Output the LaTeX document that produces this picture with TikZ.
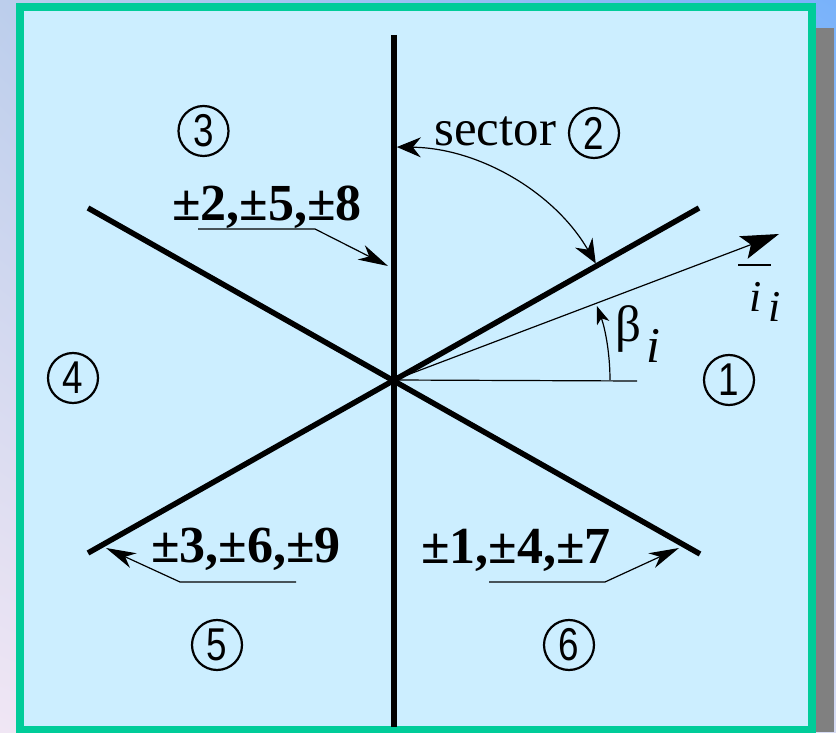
\documentclass[tikz,border=0pt]{standalone}
\usepackage{fontspec}
\setmainfont{Liberation Serif}
\newfontfamily\numfont{Liberation Sans}
\usepackage{graphicx}
\usetikzlibrary{arrows.meta,shadings}
\definecolor{panel}{HTML}{CCEEFF}
\definecolor{frame}{HTML}{00CC99}
\definecolor{shadowgray}{HTML}{808080}
\definecolor{bgul}{RGB}{188,206,236}
\definecolor{bgur}{RGB}{120,178,250}
\definecolor{bgll}{RGB}{240,230,244}
\definecolor{bglr}{RGB}{214,220,244}
\tikzset{
  sectline/.style={line width=5.5pt},
  thinline/.style={line width=1.2pt},
  circnum/.style={circle,draw,line width=2.2pt,minimum size=50pt,inner sep=0pt,font=\numfont\fontsize{46}{46}\selectfont},
  boldlab/.style={anchor=base west,inner sep=0pt,font=\fontsize{52}{52}\selectfont\bfseries},
  bigtxt/.style={anchor=base west,inner sep=0pt,font=\fontsize{51}{51}\selectfont},
  labtip/.style={-{Stealth[length=30pt,width=16pt,inset=9pt]}}
}
\newcommand{\sectnum}[3]{\node[circnum] (#1) at (#2) {\scalebox{.8}[1]{#3}};}

\begin{document}
\begin{tikzpicture}[x=1pt,y=1pt]
\useasboundingbox (0,0) rectangle (836,732);
% backdrop, shadow and panel
\shade[upper left=bgul,upper right=bgur,lower left=bgll,lower right=bglr] (0,0) rectangle (836,732);
\fill[shadowgray] (816,0) rectangle (834,704);
\fill[panel] (20,2) rectangle (812,725);
\draw[frame,line width=7.5pt] (20,2) rectangle (812,725);

% sector boundaries
\coordinate (O) at (394,352);
\coordinate (ntop) at (394,697);
\coordinate (nbot) at (394,5);
\coordinate (ur) at (699,524);
\coordinate (ul) at (88,524);
\coordinate (ll) at (88,179);
\coordinate (lr) at (700,178);
\draw[sectline] (ntop) -- (nbot);
\draw[sectline] (ul) -- (lr);
\draw[sectline] (ll) -- (ur);

% current vector and its angle
\coordinate (itip) at (779,498);
\coordinate (href) at (637,351);
\draw[thinline] (O) -- (href);
\draw[thinline,-{Stealth[length=38pt,width=24pt,inset=8pt]}] (O) -- (itip);
\draw[thinline,-{Stealth[length=18pt,width=13pt,inset=5pt]}] ([shift={(0:216)}]O) arc[start angle=0,end angle=20,radius=216];
\node[bigtxt] (beta) at (615,390) {β};
\node[anchor=base west,inner sep=0pt,font=\fontsize{50}{50}\selectfont\itshape] (betasub) at (646,369) {i};
\node[anchor=base west,inner sep=0pt,font=\fontsize{44}{44}\selectfont\itshape] (cur) at (749,420) {i};
\node[anchor=base west,inner sep=0pt,font=\fontsize{44}{44}\selectfont\itshape] (cursub) at (768,410) {i};
\draw[thinline] (738,467) -- (771,467);

% sector 2 span
\draw[thinline,{Stealth[length=24pt,width=20pt,inset=8pt]}-{Stealth[length=24pt,width=20pt,inset=8pt]}] ([shift={(89.3:233)}]O) arc[start angle=89.3,end angle=30,radius=233];
\node[bigtxt] (sectxt) at (434,586) {sector};

% sector numbers
\sectnum{s1}{729,352}{1}
\sectnum{s2}{594,599}{2}
\sectnum{s3}{203.5,601}{3}
\sectnum{s4}{73,354}{4}
\sectnum{s5}{217,87}{5}
\sectnum{s6}{569,87}{6}

% switching states on the boundaries
\node[boldlab] (lab258) at (172,511) {±2,±5,±8};
\coordinate (u258a) at (198,503);
\coordinate (u258b) at (315,503);
\coordinate (t258) at (388,466);
\draw[thinline,labtip] (u258a) -- (u258b) -- (t258);
\node[boldlab] (lab369) at (151,170) {±3,±6,±9};
\coordinate (u369a) at (296,150);
\coordinate (u369b) at (180,150);
\coordinate (t369) at (106,184);
\draw[thinline,labtip] (u369a) -- (u369b) -- (t369);
\node[boldlab] (lab147) at (421,169) {±1,±4,±7};
\coordinate (u147a) at (489,150);
\coordinate (u147b) at (605,150);
\coordinate (t147) at (679,184);
\draw[thinline,labtip] (u147a) -- (u147b) -- (t147);
\end{tikzpicture}
\end{document}
